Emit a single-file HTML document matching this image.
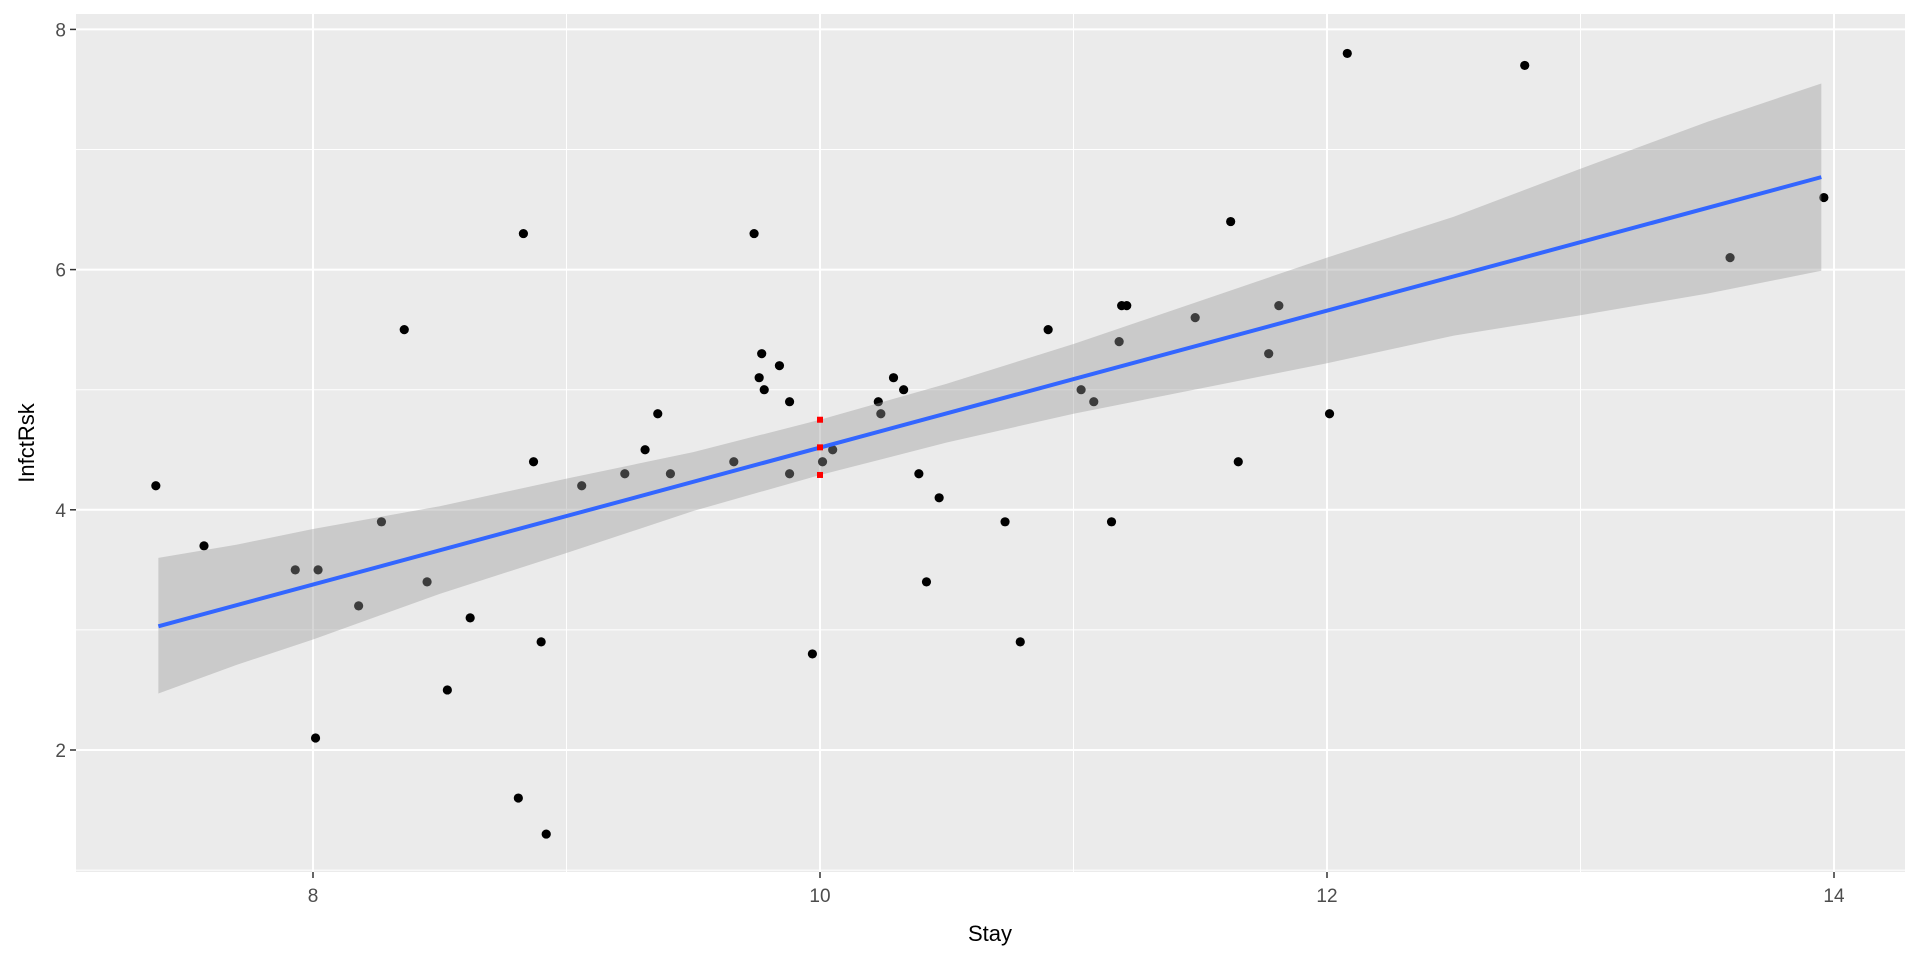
<!DOCTYPE html>
<html><head><meta charset="utf-8"><style>
body{margin:0;background:#fff;}
svg text{font-family:"Liberation Sans",Arial,sans-serif;}
</style></head><body>
<svg id="chart" width="1920" height="960" xmlns="http://www.w3.org/2000/svg">
<rect x="76" y="14" width="1829" height="858" fill="#ebebeb"/>
<g id="grid"></g>
<g id="pts"></g>
<g id="fit"></g>
<g id="axes"></g>
<text x="990" y="941" font-size="22" text-anchor="middle" fill="#000">Stay</text>
<text transform="translate(34,443) rotate(-90)" font-size="22" text-anchor="middle" fill="#000">InfctRsk</text>
</svg>
<script>
const stay=[7.38,7.57,7.93,8.02,8.01,8.18,8.27,8.36,8.45,8.53,8.62,8.81,8.83,8.87,8.90,8.92,9.06,9.23,9.31,9.36,9.41,9.66,9.74,9.77,9.76,9.78,9.84,9.88,9.88,9.97,10.01,10.05,10.23,10.24,10.29,10.33,10.39,10.42,10.47,10.73,10.79,10.90,11.03,11.08,11.15,11.18,11.19,11.21,11.48,11.62,11.65,11.77,11.81,12.01,12.08,12.78,13.59,13.96];
const risk=[4.2,3.7,3.5,3.5,2.1,3.2,3.9,5.5,3.4,2.5,3.1,1.6,6.3,4.4,2.9,1.3,4.2,4.3,4.5,4.8,4.3,4.4,6.3,5.3,5.1,5.0,5.2,4.9,4.3,2.8,4.4,4.5,4.9,4.8,5.1,5.0,4.3,3.4,4.1,3.9,2.9,5.5,5.0,4.9,3.9,5.4,5.7,5.7,5.6,6.4,4.4,5.3,5.7,4.8,7.8,7.7,6.1,6.6];
const fitX=[7.39,13.95];
const fitY=[3.03,6.77];
const ciX=[7.39,7.7,8,8.5,9,9.5,10,10.5,11,11.5,12,12.5,13,13.5,13.95];
const ciLow=[2.47,2.71,2.92,3.30,3.64,3.99,4.29,4.56,4.80,5.01,5.22,5.45,5.62,5.80,5.99];
const ciHigh=[3.60,3.71,3.84,4.03,4.26,4.48,4.75,5.05,5.38,5.74,6.10,6.44,6.84,7.23,7.55];
const predX=[10,10,10];
const predY=[4.29,4.52,4.75];
const xTicks=[8,10,12,14];
const yTicks=[2,4,6,8];
const xMinor=[9,11,13];
const yMinor=[1,3,5,7];

const NS="http://www.w3.org/2000/svg";
const X=v=>313+(v-8)*253.5;
const Y=v=>750-(v-2)*120.1;
const L=76,R=1905,T=14,B=872;
function mk(tag,attrs,parent){const e=document.createElementNS(NS,tag);for(const k in attrs)e.setAttribute(k,attrs[k]);parent.appendChild(e);return e;}
const grid=document.getElementById('grid');
xMinor.forEach(v=>{const e=mk('line',{x1:X(v),x2:X(v),y1:T,y2:B,stroke:'#fff','stroke-width':1},grid);

});
yMinor.forEach(v=>{const e=mk('line',{x1:L,x2:R,y1:Y(v),y2:Y(v),stroke:'#fff','stroke-width':1},grid);

});
const axes=document.getElementById('axes');
xTicks.forEach(v=>{const e=mk('line',{x1:X(v),x2:X(v),y1:T,y2:B,stroke:'#fff','stroke-width':2},grid);


const t=mk('line',{x1:X(v),x2:X(v),y1:B,y2:B+6,stroke:'#333','stroke-width':1.5},axes);


const l=mk('text',{x:X(v),y:B+30,'font-size':19,'text-anchor':'middle',fill:'#4d4d4d'},axes);l.textContent=v;

});
yTicks.forEach(v=>{const e=mk('line',{x1:L,x2:R,y1:Y(v),y2:Y(v),stroke:'#fff','stroke-width':2},grid);


const t=mk('line',{x1:L-6,x2:L,y1:Y(v),y2:Y(v),stroke:'#333','stroke-width':1.5},axes);


const l=mk('text',{x:L-10,y:Y(v)+7,'font-size':19,'text-anchor':'end',fill:'#4d4d4d'},axes);l.textContent=v;

});
const pts=document.getElementById('pts');
stay.forEach((s,i)=>{const c=mk('circle',{cx:X(s),cy:Y(risk[i]),r:4.6,fill:'#000'},pts);

});
const fit=document.getElementById('fit');
let d='M'+ciX.map((x,i)=>X(x)+','+Y(ciHigh[i])).join(' L');
for(let i=ciX.length-1;i>=0;i--)d+=' L'+X(ciX[i])+','+Y(ciLow[i]);
const band=mk('path',{d:d+'Z',fill:'#999','fill-opacity':0.4},fit);


const ln=mk('line',{x1:X(fitX[0]),y1:Y(fitY[0]),x2:X(fitX[1]),y2:Y(fitY[1]),stroke:'#3366ff','stroke-width':4},fit);


predX.forEach((x,i)=>{const r=mk('rect',{x:X(x)-3,y:Y(predY[i])-3,width:6,height:6,fill:'#ff0000'},fit);

});
</script>
</body></html>
